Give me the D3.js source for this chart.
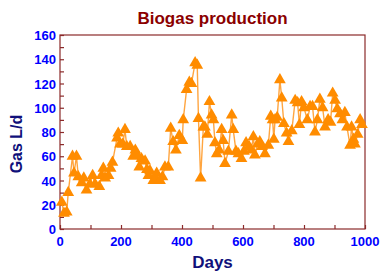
<!DOCTYPE html>
<html>
<head>
<meta charset="utf-8">
<script src="https://cdn.jsdelivr.net/npm/d3@7"></script>
<style>
  body { margin: 0; background: #fff; }
  svg { display: block; font-family: "Liberation Sans", Arial, sans-serif; }
</style>
</head>
<body>
<div id="chart"></div>
<script>
// Chart size and plot box
const width = 386,
      height = 279;
const margin = { top: 35, right: 21, bottom: 50, left: 60 };

// Data
const days = [6, 13, 22, 27, 41, 46, 54, 60, 71, 78,
  87, 98, 107, 115, 129, 136, 142, 148, 159, 166,
  172, 187, 191, 197, 206, 213, 219, 230, 240, 247,
  253, 260, 267, 279, 285, 290, 295, 306, 312, 317,
  328, 336, 344, 355, 363, 371, 380, 391, 401, 404,
  415, 424, 431, 443, 450, 454, 461, 470, 475, 483,
  490, 497, 503, 508, 514, 522, 530, 535, 541, 552,
  563, 568, 577, 585, 595, 603, 610, 620, 627, 634,
  639, 648, 655, 662, 672, 683, 691, 697, 701, 705,
  712, 721, 727, 734, 743, 749, 760, 771, 779, 785,
  792, 800, 811, 820, 828, 836, 844, 852, 861, 869,
  879, 887, 894, 902, 909, 918, 926, 934, 941, 951,
  956, 962, 967, 976, 984, 990];
const gas = [22, 13, 14, 30, 60, 46, 60, 43, 38, 42,
  32, 37, 44, 37, 35, 44, 50, 42, 44, 50,
  55, 75, 79, 70, 70, 82, 68, 68, 60, 65,
  61, 51, 58, 56, 49, 44, 48, 40, 42, 46,
  40, 43, 51, 51, 83, 72, 65, 77, 73, 90,
  115, 121, 120, 137, 135, 91, 42, 84, 84, 78,
  105, 94, 90, 71, 62, 65, 82, 73, 54, 64,
  94, 82, 64, 62, 58, 64, 71, 68, 65, 76,
  61, 70, 72, 68, 62, 69, 93, 90, 74, 90,
  92, 123, 108, 87, 79, 72, 81, 106, 104, 86,
  105, 100, 90, 101, 101, 80, 90, 107, 100, 84,
  90, 88, 112, 106, 99, 95, 90, 96, 84, 69,
  84, 74, 70, 78, 90, 86];
const xTicks = [0, 200, 400, 600, 800, 1000];
const yTicks = [0, 20, 40, 60, 80, 100, 120, 140, 160];

const data = days.map((d, i) => ({ day: d, gas: gas[i] }));

const svg = d3.select("#chart").append("svg")
    .attr("width", width)
    .attr("height", height);

const x = d3.scaleLinear()
    .domain([0, 1000])
    .range([margin.left, width - margin.right]);

const y = d3.scaleLinear()
    .domain([0, 160])
    .range([height - margin.bottom, margin.top]);

const axisColor = "#8b2a2a";

// Frame round the plot
svg.append("rect")
    .attr("x", x(0))
    .attr("y", y(160))
    .attr("width", x(1000) - x(0))
    .attr("height", y(0) - y(160))
    .style("fill", "none")
    .style("stroke", axisColor)
    .style("stroke-width", 1.2);

// Inward ticks, major and minor
const xAxis = svg.append("g")
    .attr("transform", `translate(0,${y(0)})`)
    .call(d3.axisBottom(x).tickValues(d3.range(0, 1001, 100)).tickSize(-4).tickFormat(""));
const yAxis = svg.append("g")
    .attr("transform", `translate(${x(0)},0)`)
    .call(d3.axisLeft(y).tickValues(d3.range(0, 161, 10)).tickSize(-4).tickFormat(""));
[xAxis, yAxis].forEach(g => {
    g.select(".domain").remove();
    g.selectAll("line").style("stroke", axisColor).style("stroke-width", 1.2);
});

// Tick labels
svg.append("g").selectAll("text")
    .data(xTicks)
    .enter().append("text")
    .attr("x", d => x(d))
    .attr("y", y(0) + 17)
    .attr("text-anchor", "middle")
    .style("font-size", "13px")
    .style("font-weight", "bold")
    .style("fill", "#0000ff")
    .text(d => d);

svg.append("g").selectAll("text")
    .data(yTicks)
    .enter().append("text")
    .attr("x", x(0) - 4)
    .attr("y", d => y(d) + 5)
    .attr("text-anchor", "end")
    .style("font-size", "13px")
    .style("font-weight", "bold")
    .style("fill", "#0000ff")
    .text(d => d);

// Line and triangle markers
const line = d3.line()
    .x(d => x(d.day))
    .y(d => y(d.gas));

svg.append("path")
    .datum(data)
    .attr("d", line)
    .style("fill", "none")
    .style("stroke", "#ffa540")
    .style("stroke-width", 1.4);

const tri = d3.symbol().type(d3.symbolTriangle).size(60);
svg.append("g").selectAll("path")
    .data(data)
    .enter().append("path")
    .attr("d", tri)
    .attr("transform", d => `translate(${x(d.day)},${y(d.gas)})`)
    .style("fill", "#ff8c00");

// Titles
svg.append("text")
    .attr("x", (x(0) + x(1000)) / 2)
    .attr("y", 24)
    .attr("text-anchor", "middle")
    .style("font-size", "17px")
    .style("font-weight", "bold")
    .style("fill", "#8b0000")
    .text("Biogas production");

svg.append("text")
    .attr("x", (x(0) + x(1000)) / 2)
    .attr("y", 268)
    .attr("text-anchor", "middle")
    .style("font-size", "17px")
    .style("font-weight", "bold")
    .style("fill", "#10107a")
    .text("Days");

svg.append("text")
    .attr("transform", `translate(22,144) rotate(-90)`)
    .attr("text-anchor", "middle")
    .style("font-size", "16px")
    .style("font-weight", "bold")
    .style("fill", "#10107a")
    .text("Gas L/d");
</script>
</body>
</html>
